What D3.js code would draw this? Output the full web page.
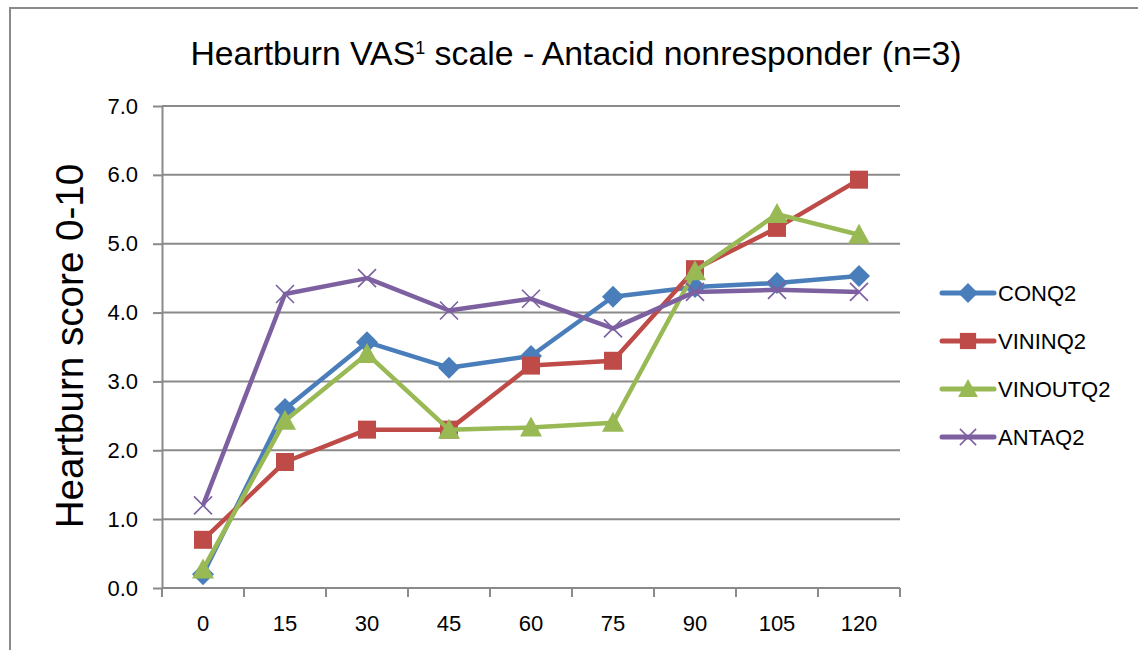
<!DOCTYPE html>
<html>
<head>
<meta charset="UTF-8">
<title>Heartburn VAS scale</title>
<script src="https://d3js.org/d3.v7.min.js"></script>
<style>
  body { margin: 0; background: #fff; }
  svg { display: block; font-family: "Liberation Sans", Arial, sans-serif; }
  .grid line { stroke: #8a8a8a; stroke-width: 2px; }
  .axis path, .axis line { stroke: #8a8a8a; stroke-width: 2px; }
  .axis text { font-size: 22px; fill: #000; }
</style>
</head>
<body>
<div id="chart"></div>
<script>
// data
const minutes = ["0", "15", "30", "45", "60", "75", "90", "105", "120"];
const conq2   = [0.20, 2.60, 3.57, 3.20, 3.37, 4.23, 4.37, 4.43, 4.53];
const vininq2 = [0.70, 1.83, 2.30, 2.30, 3.23, 3.30, 4.63, 5.23, 5.93];
const vinoutq2 = [0.27, 2.43, 3.40, 2.30, 2.33, 2.40, 4.60, 5.43, 5.13];
const antaq2  = [1.20, 4.27, 4.50, 4.03, 4.20, 3.77, 4.30, 4.33, 4.30];
const yTicks = [0, 1, 2, 3, 4, 5, 6, 7];

const series = [
  { name: "CONQ2", values: conq2, color: "#4a7ebb", marker: "diamond" },
  { name: "VININQ2", values: vininq2, color: "#be4b48", marker: "square" },
  { name: "VINOUTQ2", values: vinoutq2, color: "#98b954", marker: "triangle" },
  { name: "ANTAQ2", values: antaq2, color: "#7d60a0", marker: "cross" }
];

const width = 1138, height = 650;
const plot = { left: 162, right: 900, top: 106, bottom: 588 };

const svg = d3.select("#chart").append("svg")
  .attr("width", width).attr("height", height);

// outer chart frame (only left and top edges are visible in the crop)
svg.append("rect")
  .attr("x", 10).attr("y", 8)
  .attr("width", width + 20).attr("height", height + 20)
  .attr("fill", "none").attr("stroke", "#8a8a8a").attr("stroke-width", 2);

const x = d3.scaleBand().domain(minutes).range([plot.left, plot.right]);
const y = d3.scaleLinear().domain([0, 7]).range([plot.bottom, plot.top]);

// gridlines
svg.append("g").attr("class", "grid")
  .selectAll("line").data(yTicks.slice(1)).join("line")
  .attr("x1", plot.left).attr("x2", plot.right)
  .attr("y1", d => y(d)).attr("y2", d => y(d));

// y axis
svg.append("g").attr("class", "axis")
  .attr("transform", `translate(${plot.left},0)`)
  .call(d3.axisLeft(y).tickValues(yTicks).tickFormat(d3.format(".1f")).tickSizeInner(9).tickSizeOuter(0).tickPadding(15));

// x axis: ticks sit between categories
const xAxis = svg.append("g").attr("class", "axis")
  .attr("transform", `translate(0,${plot.bottom})`);
xAxis.append("line").attr("x1", plot.left).attr("x2", plot.right).attr("y1", 0).attr("y2", 0);
xAxis.selectAll(".tk").data(d3.range(minutes.length + 1)).join("line")
  .attr("class", "tk")
  .attr("x1", i => plot.left + i * x.step()).attr("x2", i => plot.left + i * x.step())
  .attr("y1", 0).attr("y2", 9);
xAxis.selectAll("text").data(minutes).join("text")
  .attr("x", d => x(d) + x.bandwidth() / 2)
  .attr("y", 43)
  .attr("text-anchor", "middle")
  .text(d => d);

// titles
const title = svg.append("text")
  .attr("x", 576).attr("y", 65)
  .attr("text-anchor", "middle")
  .style("font-size", "29px");
title.append("tspan").text("Heartburn VAS");
title.append("tspan").text("1").style("font-size", "18px").attr("dy", -11);
title.append("tspan").text(" scale - Antacid nonresponder (n=3)").attr("dy", 11);
fitWidth(title, 772);

const yTitle = svg.append("text")
  .attr("transform", "translate(83,346) rotate(-90)")
  .attr("text-anchor", "middle")
  .style("font-size", "36px")
  .text("Heartburn score 0-10");
fitWidth(yTitle, 365);

function fitWidth(sel, target) {
  const fs = parseFloat(sel.style("font-size"));
  const w = sel.node().getBBox().width;
  sel.style("font-size", (fs * target / w).toFixed(1) + "px");
}

// markers
function drawMarker(g, type, color, cx, cy, s) {
  if (type === "diamond") {
    g.append("path").attr("d", `M${cx},${cy - s * 0.55}L${cx + s * 0.55},${cy}L${cx},${cy + s * 0.55}L${cx - s * 0.55},${cy}Z`)
      .attr("fill", color);
  } else if (type === "square") {
    g.append("rect").attr("x", cx - s * 0.45).attr("y", cy - s * 0.45)
      .attr("width", s * 0.9).attr("height", s * 0.9).attr("fill", color);
  } else if (type === "triangle") {
    g.append("path").attr("d", `M${cx},${cy - s * 0.55}L${cx + s * 0.55},${cy + s * 0.45}L${cx - s * 0.55},${cy + s * 0.45}Z`)
      .attr("fill", color);
  } else {
    const r = s * 0.45;
    g.append("path").attr("d", `M${cx - r},${cy - r}L${cx + r},${cy + r}M${cx - r},${cy + r}L${cx + r},${cy - r}`)
      .attr("stroke", color).attr("stroke-width", 1.6).attr("fill", "none");
  }
}

const line = d3.line()
  .x((d, i) => x(minutes[i]) + x.bandwidth() / 2)
  .y(d => y(d));

series.forEach(s => {
  const g = svg.append("g");
  g.append("path").datum(s.values)
    .attr("d", line)
    .attr("fill", "none")
    .attr("stroke", s.color)
    .attr("stroke-width", 4.5)
    .attr("stroke-linejoin", "round");
  s.values.forEach((v, i) => {
    drawMarker(g, s.marker, s.color, x(minutes[i]) + x.bandwidth() / 2, y(v), 20);
  });
});

// legend
const legend = svg.append("g");
series.forEach((s, i) => {
  const ly = 293 + i * 48;
  const g = legend.append("g");
  g.append("line").attr("x1", 942).attr("x2", 994).attr("y1", ly).attr("y2", ly)
    .attr("stroke", s.color).attr("stroke-width", 5).attr("stroke-linecap", "round");
  drawMarker(g, s.marker, s.color, 968, ly, 18);
  g.append("text").attr("x", 998).attr("y", ly + 8)
    .style("font-size", "22px").text(s.name);
});
</script>
</body>
</html>
